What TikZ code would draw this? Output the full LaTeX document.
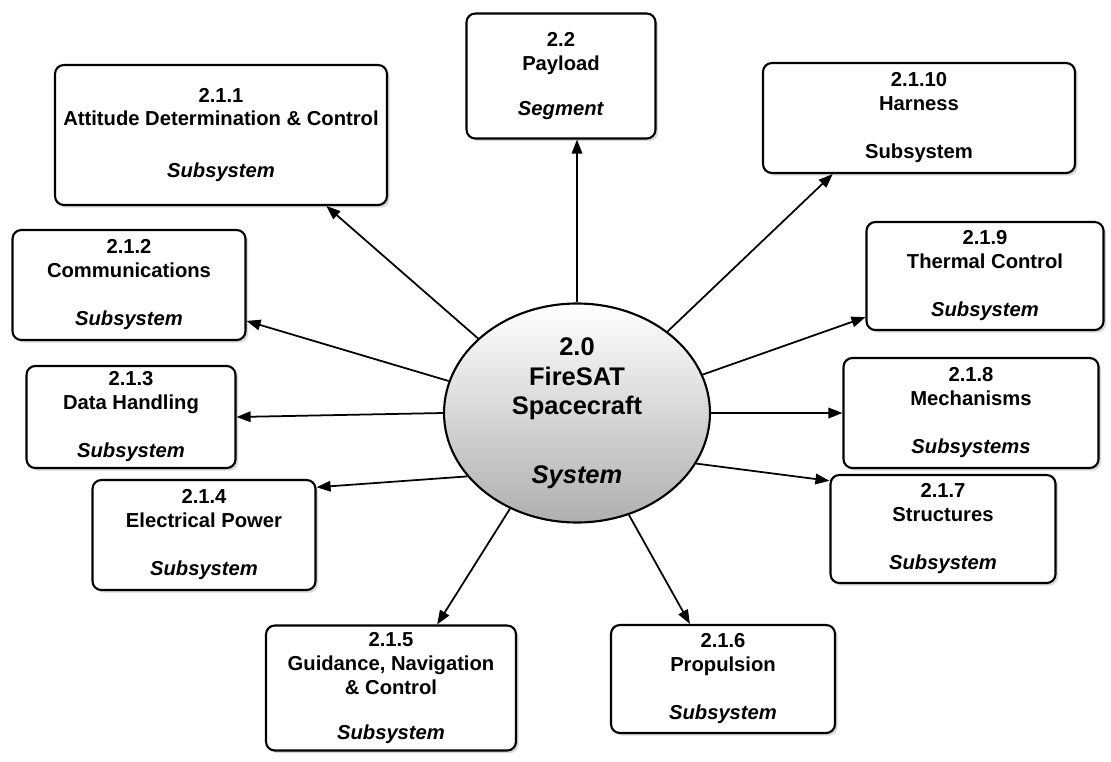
\documentclass[tikz,border=0pt]{standalone}
\usepackage{fontspec}
\setmainfont{Liberation Sans}
\usepackage{tikz}
\usetikzlibrary{arrows.meta,shadows,shapes.geometric}
\definecolor{sysgray}{RGB}{175,175,175}

\begin{document}
\begin{tikzpicture}[x=0.02cm, y=-0.02cm,
    subsys/.style={draw, line width=1.2pt, rounded corners=5pt, fill=white, align=center,
        font=\bfseries\fontsize{11.5}{13.5}\selectfont,
        drop shadow={shadow xshift=1.5pt, shadow yshift=-1.5pt, opacity=0.3}},
    link/.style={line width=1pt, -{Triangle[length=8pt,width=6pt]}}]
    \useasboundingbox (0,0) rectangle (1111,761);

    % system in the middle
    \node[draw, ellipse, line width=1.2pt, minimum width=5.32cm, minimum height=4.2cm,
          inner sep=1pt, top color=white, bottom color=sysgray, align=center,
          font=\bfseries\fontsize{14.5}{17}\selectfont] (sys) at (577,413)
          {2.0\\FireSAT\\Spacecraft\\[22pt]\textit{System}};

    % segment and subsystems
    \node[subsys, minimum width=3.78cm, minimum height=2.5cm] (b22) at (561,76)
          {2.2\\Payload\\[12pt]\textit{Segment}};
    \node[subsys, minimum width=6.64cm, minimum height=2.8cm] (b211) at (221,135)
          {2.1.1\\Attitude Determination \& Control\\[16pt]\textit{Subsystem}};
    \node[subsys, minimum width=6.24cm, minimum height=2.2cm] (b2110) at (919,118)
          {2.1.10\\Harness\\[14pt]Subsystem};
    \node[subsys, minimum width=4.66cm, minimum height=2.2cm] (b212) at (129,285)
          {2.1.2\\Communications\\[14pt]\textit{Subsystem}};
    \node[subsys, minimum width=4.74cm, minimum height=2.16cm] (b219) at (985,276)
          {2.1.9\\Thermal Control\\[14pt]\textit{Subsystem}};
    \node[subsys, minimum width=4.18cm, minimum height=2.0cm] (b213) at (131,417)
          {2.1.3\\Data Handling\\[14pt]\textit{Subsystem}};
    \node[subsys, minimum width=5.1cm, minimum height=2.2cm] (b218) at (971,413)
          {2.1.8\\Mechanisms\\[14pt]\textit{Subsystems}};
    \node[subsys, minimum width=4.46cm, minimum height=2.2cm] (b214) at (204,535)
          {2.1.4\\Electrical Power\\[14pt]\textit{Subsystem}};
    \node[subsys, minimum width=4.5cm, minimum height=2.16cm] (b217) at (943,529)
          {2.1.7\\Structures\\[14pt]\textit{Subsystem}};
    \node[subsys, minimum width=5.0cm, minimum height=2.5cm] (b215) at (391,688)
          {2.1.5\\Guidance, Navigation\\\& Control\\[12pt]\textit{Subsystem}};
    \node[subsys, minimum width=4.48cm, minimum height=2.16cm] (b216) at (723,679)
          {2.1.6\\Propulsion\\[14pt]\textit{Subsystem}};

    % arrows out of the system
    \draw[link] (sys.north) -- (sys.north |- b22.south);
    \draw[link] (sys.143) -- (b211.-34);
    \draw[link] (sys.42) -- (b2110.213);
    \draw[link] (sys.166) -- (b212.-17);
    \draw[link] (sys.17) -- (b219.199);
    \draw[link] (sys.west) -- (b213.east);
    \draw[link] (sys.east) -- (b218.west);
    \draw[link] (sys.210) -- (b214.23);
    \draw[link] (sys.337) -- (b217.157);
    \draw[link] (sys.235) -- (b215.54);
    \draw[link] (sys.297) -- (b216.121);
\end{tikzpicture}
\end{document}
